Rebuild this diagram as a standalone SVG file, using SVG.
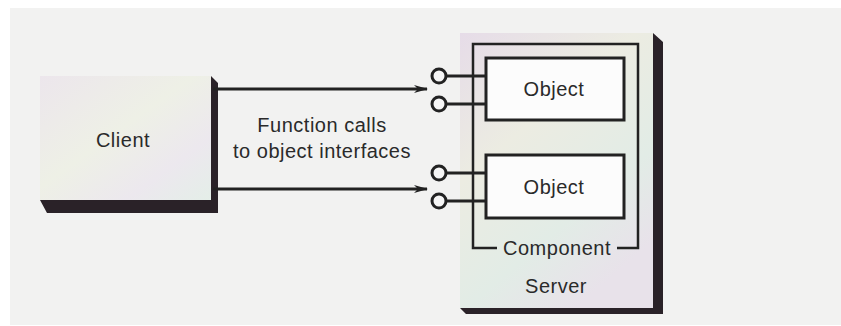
<svg xmlns="http://www.w3.org/2000/svg" width="841" height="326" viewBox="0 0 841 326">
  <defs>
    <style>
      .txt { font-family: "Liberation Sans", Arial, sans-serif; font-size: 20px; fill: #2a2a2a; text-anchor: middle; letter-spacing: 0.5px; }
      .line { stroke: #222; stroke-width: 3; fill: none; }
      .thin { stroke: #222; stroke-width: 2.5; fill: none; }
      .obj { fill: #fcfcfc; stroke: #222; stroke-width: 3; }
      .shadow { fill: #2a2228; }
      .port { fill: #f6f6f6; stroke: #222; stroke-width: 3; }
    </style>
    <linearGradient id="gClient" x1="0" y1="0" x2="1" y2="1">
      <stop offset="0" stop-color="#ece6ec"/>
      <stop offset="0.45" stop-color="#eef0e6"/>
      <stop offset="0.75" stop-color="#ece8ee"/>
      <stop offset="1" stop-color="#e4eee8"/>
    </linearGradient>
    <linearGradient id="gServer" x1="0" y1="0" x2="0.6" y2="1">
      <stop offset="0" stop-color="#e6dce8"/>
      <stop offset="0.4" stop-color="#ecece2"/>
      <stop offset="0.75" stop-color="#e2ece6"/>
      <stop offset="1" stop-color="#e8e2ea"/>
    </linearGradient>
    <marker id="arr" markerWidth="14" markerHeight="10" refX="13" refY="5" orient="auto" markerUnits="userSpaceOnUse">
      <path d="M0,1 L14,5 L0,9 L4,5 Z" fill="#222"/>
    </marker>
  </defs>

  <rect x="0" y="0" width="841" height="326" fill="#ffffff"/>
  <rect x="10" y="8" width="831" height="317" fill="#f2f2f1"/>

  <g id="client">
    <polygon class="shadow" points="211,76 218,83 218,213 47,213 40,200 211,200"/>
    <rect x="40" y="76" width="171" height="124" fill="url(#gClient)"/>
    <text class="txt" x="123" y="147">Client</text>
  </g>

  <g id="server">
    <polygon class="shadow" points="653,33 663,42 663,314 466,314 460,308 653,308"/>
    <rect x="460" y="33" width="193" height="275" fill="url(#gServer)"/>
    <text class="txt" x="556" y="293">Server</text>
  </g>

  <g id="component">
    <path class="thin" d="M497,248 L473,248 L473,44 L638,44 L638,248 L617,248"/>
    <text class="txt" x="557" y="255">Component</text>
  </g>

  <g id="object1">
    <rect class="obj" x="486" y="58" width="138" height="62"/>
    <text class="txt" x="554" y="96">Object</text>
  </g>

  <g id="object2">
    <rect class="obj" x="486" y="155" width="138" height="63"/>
    <text class="txt" x="554" y="194">Object</text>
  </g>

  <g id="connectors">
    <line class="line" x1="213" y1="89" x2="427" y2="89" marker-end="url(#arr)"/>
    <line class="line" x1="213" y1="189" x2="427" y2="189" marker-end="url(#arr)"/>
    <line class="line" x1="446" y1="76" x2="486" y2="76"/>
    <line class="line" x1="446" y1="104" x2="486" y2="104"/>
    <line class="line" x1="446" y1="173" x2="486" y2="173"/>
    <line class="line" x1="446" y1="201" x2="486" y2="201"/>
    <circle class="port" cx="439" cy="76" r="7"/>
    <circle class="port" cx="439" cy="104" r="7"/>
    <circle class="port" cx="439" cy="173" r="7"/>
    <circle class="port" cx="439" cy="201" r="7"/>
  </g>

  <g id="label">
    <text class="txt" x="322" y="132">Function calls</text>
    <text class="txt" x="322" y="158">to object interfaces</text>
  </g>
</svg>
